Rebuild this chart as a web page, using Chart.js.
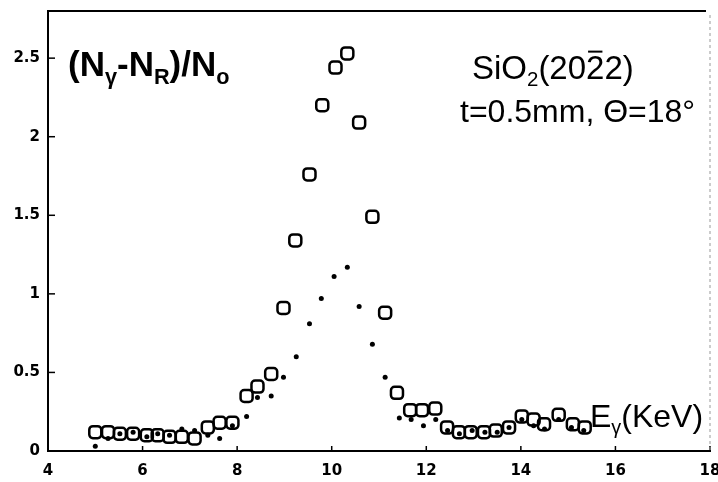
<!DOCTYPE html>
<html>
<head>
<meta charset="utf-8">
<script src="https://cdn.jsdelivr.net/npm/chart.js@4"></script>
<style>
  html, body { margin: 0; padding: 0; background: #fff; }
  #wrap { width: 718px; height: 482px; }
</style>
</head>
<body>
<div id="wrap"><canvas id="spectrum"></canvas></div>
<script>
// axis ticks
const xTicks = [4, 6, 8, 10, 12, 14, 16, 18];
const yTicks = [0, 0.5, 1, 1.5, 2, 2.5];

// open squares
const squareE = [5.00, 5.27, 5.52, 5.80, 6.09, 6.32, 6.57, 6.83, 7.10, 7.38, 7.63, 7.90,
                 8.20, 8.43, 8.72, 8.98, 9.23, 9.53, 9.80, 10.08, 10.33, 10.58, 10.86, 11.13,
                 11.38, 11.66, 11.91, 12.19, 12.44, 12.69, 12.94, 13.22, 13.47, 13.75, 14.02,
                 14.27, 14.49, 14.80, 15.10, 15.35];
const squareN = [0.12, 0.12, 0.11, 0.11, 0.10, 0.10, 0.09, 0.09, 0.08, 0.15, 0.18, 0.18,
                 0.35, 0.41, 0.49, 0.91, 1.34, 1.76, 2.20, 2.44, 2.53, 2.09, 1.49, 0.88,
                 0.37, 0.26, 0.26, 0.27, 0.15, 0.12, 0.12, 0.12, 0.13, 0.15, 0.22,
                 0.20, 0.17, 0.23, 0.17, 0.15];

// filled dots
const dotE = [5.00, 5.27, 5.52, 5.80, 6.09, 6.32, 6.57, 6.83, 7.10, 7.38, 7.63, 7.90,
              8.20, 8.43, 8.72, 8.98, 9.25, 9.53, 9.78, 10.05, 10.33, 10.58, 10.86, 11.13,
              11.43, 11.68, 11.94, 12.20, 12.45, 12.70, 12.97, 13.24, 13.50, 13.75, 14.02,
              14.27, 14.50, 14.80, 15.07, 15.33];
const dotN = [0.03, 0.08, 0.11, 0.12, 0.09, 0.11, 0.10, 0.14, 0.13, 0.10, 0.08, 0.16,
              0.22, 0.34, 0.35, 0.47, 0.60, 0.81, 0.97, 1.11, 1.17, 0.92, 0.68, 0.47,
              0.21, 0.20, 0.16, 0.20, 0.13, 0.11, 0.13, 0.12, 0.12, 0.15, 0.20,
              0.16, 0.14, 0.20, 0.15, 0.13];

const toPoints = (xs, ys) => xs.map((v, i) => ({ x: v, y: ys[i] }));

// draws a row of text pieces, some as subscripts or with an overbar
function drawRuns(ctx, x, y, runs, size, weight) {
  runs.forEach(r => {
    const s = r.sub ? size * 0.62 : size;
    ctx.font = weight + ' ' + s + 'px "Liberation Sans"';
    const dy = r.sub ? size * 0.22 : 0;
    ctx.fillText(r.t, x, y + dy);
    const w = ctx.measureText(r.t).width;
    if (r.bar) ctx.fillRect(x + 2, y - size * 0.86, w - 4, 2);
    x += w;
  });
}

const frameAndText = {
  id: 'frameAndText',
  afterDatasetsDraw(chart) {
    const { ctx, chartArea: a, scales: { x, y } } = chart;
    ctx.save();
    ctx.strokeStyle = '#000';
    ctx.lineWidth = 1.5;
    // inward tick marks
    x.ticks.forEach(t => {
      const px = x.getPixelForValue(t.value);
      ctx.beginPath(); ctx.moveTo(px, a.bottom); ctx.lineTo(px, a.bottom - 5); ctx.stroke();
    });
    y.ticks.forEach(t => {
      const py = y.getPixelForValue(t.value);
      ctx.beginPath(); ctx.moveTo(a.left, py); ctx.lineTo(a.left + 7, py); ctx.stroke();
    });
    // top and right frame
    ctx.lineWidth = 2;
    ctx.beginPath(); ctx.moveTo(a.left, a.top); ctx.lineTo(a.right - 4, a.top); ctx.stroke();
    ctx.strokeStyle = '#999';
    ctx.lineWidth = 1;
    ctx.setLineDash([3, 3]);
    ctx.beginPath(); ctx.moveTo(a.right, a.top + 4); ctx.lineTo(a.right, a.bottom); ctx.stroke();
    ctx.setLineDash([]);

    // labels
    ctx.fillStyle = '#000';
    ctx.textBaseline = 'alphabetic';
    drawRuns(ctx, 68, 76, [
      { t: '(N' }, { t: 'γ', sub: true }, { t: '-N' }, { t: 'R', sub: true },
      { t: ')/N' }, { t: 'o', sub: true }
    ], 35, 'bold');
    drawRuns(ctx, 472, 79, [
      { t: 'SiO' }, { t: '2', sub: true }, { t: '(20' }, { t: '2', bar: true }, { t: '2)' }
    ], 33, 'normal');
    drawRuns(ctx, 460, 122, [{ t: 't=0.5mm, Θ=18°' }], 32, 'normal');
    drawRuns(ctx, 590, 427, [{ t: 'E' }, { t: 'γ', sub: true }, { t: '(KeV)' }], 32, 'normal');
    ctx.restore();
  }
};

const tickFont = { family: '"DejaVu Sans"', size: 15, weight: 'bold' };

new Chart(document.getElementById('spectrum'), {
  type: 'scatter',
  data: {
    datasets: [
      {
        label: 'squares',
        data: toPoints(squareE, squareN),
        pointStyle: 'rectRounded',
        pointRadius: 7,
        pointBorderWidth: 2.5,
        pointBorderColor: '#000',
        pointBackgroundColor: 'rgba(255,255,255,0)',
        order: 1
      },
      {
        label: 'dots',
        data: toPoints(dotE, dotN),
        pointStyle: 'circle',
        pointRadius: 2.5,
        pointBorderWidth: 0,
        pointBackgroundColor: '#000',
        order: 0
      }
    ]
  },
  options: {
    responsive: true,
    maintainAspectRatio: false,
    animation: false,
    layout: { autoPadding: false, padding: { top: 11, right: 8, left: 0, bottom: 0 } },
    plugins: {
      legend: { display: false },
      tooltip: { enabled: false }
    },
    scales: {
      x: {
        type: 'linear',
        min: 4,
        max: 18,
        afterBuildTicks: s => { s.ticks = xTicks.map(v => ({ value: v })); },
        afterFit: s => { s.height = 31; s.paddingLeft = 0; s.paddingRight = 0; },
        grid: { display: false, drawTicks: false },
        border: { display: true, color: '#000', width: 2 },
        ticks: { color: '#000', font: tickFont, padding: 11, maxRotation: 0, callback: v => String(v) }
      },
      y: {
        type: 'linear',
        min: 0,
        max: 2.8,
        afterBuildTicks: s => { s.ticks = yTicks.map(v => ({ value: v })); },
        afterFit: s => { s.width = 48; s.paddingTop = 0; s.paddingBottom = 0; },
        grid: { display: false, drawTicks: false },
        border: { display: true, color: '#000', width: 2 },
        ticks: { color: '#000', font: tickFont, padding: 8, callback: v => String(v) }
      }
    }
  },
  plugins: [frameAndText]
});
</script>
</body>
</html>
